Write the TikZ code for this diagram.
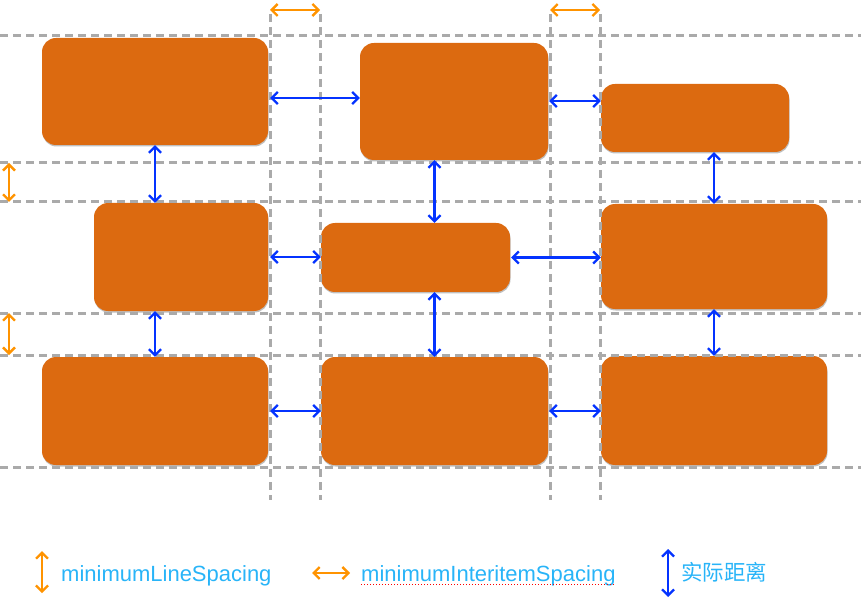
\documentclass[tikz,border=0pt]{standalone}
\usepackage{fontspec}
\setmainfont{Liberation Sans}
\newfontfamily\cjk{Noto Sans CJK SC}
\usetikzlibrary{arrows.meta,shadows,positioning}
\definecolor{boxorange}{RGB}{220,106,16}
\definecolor{gapblue}{RGB}{4,51,255}
\definecolor{lineorange}{RGB}{255,147,0}
\definecolor{gridgrey}{RGB}{170,170,170}
\definecolor{textblue}{RGB}{40,180,248}

\begin{document}
\begin{tikzpicture}[x=1pt,y=-1pt,
    item/.style={rectangle,rounded corners=14pt,fill=boxorange,inner sep=0pt,
      drop shadow={shadow xshift=0.5pt,shadow yshift=-1.5pt,opacity=0.25,fill=black}},
    gap/.style={gapblue,line width=2.3pt,
      {Straight Barb[length=6pt,width=12pt]}-{Straight Barb[length=6pt,width=12pt]}},
    spacing/.style={lineorange,line width=2.3pt,
      {Straight Barb[length=6pt,width=12pt]}-{Straight Barb[length=6pt,width=12pt]}},
    guide/.style={gridgrey,line width=3pt,dash pattern=on 8pt off 5pt},
    legend/.style={textblue,font=\fontsize{22}{26}\selectfont,anchor=base west,inner sep=0pt}]
  \useasboundingbox (0,0) rectangle (861,601);

  % items
  \node[item,minimum width=226pt,minimum height=107pt] (A) at (155,91.5) {};
  \node[item,minimum width=188pt,minimum height=117pt] (B) at (454,101.5) {};
  \node[item,minimum width=188pt,minimum height=68pt]  (C) at (695,118) {};
  \node[item,minimum width=174pt,minimum height=108pt] (D) at (181,257) {};
  \node[item,minimum width=189pt,minimum height=69pt]  (E) at (415.5,257.5) {};
  \node[item,minimum width=226pt,minimum height=105pt] (F) at (714,256.5) {};
  \node[item,minimum width=226pt,minimum height=108pt] (G) at (155,411) {};
  \node[item,minimum width=227pt,minimum height=108pt] (H) at (434.5,411) {};
  \node[item,minimum width=226pt,minimum height=109pt] (I) at (714,410.5) {};

  % guides
  \foreach \y in {36,163,202,313,355,467}
    \draw[guide] (0,\y) -- (861,\y);
  \foreach \x/\n in {270/v1,320/v2,550/v3,600/v4} {
    \coordinate (\n) at (\x,10);
    \draw[guide] (\x,14) -- (\x,500);
  }
  \foreach \y/\n in {163/h1,202/h2,313/h3,355/h4}
    \coordinate (\n) at (9,\y);

  % minimum spacings
  \draw[spacing] (v1) -- (v2);
  \draw[spacing] (v3) -- (v4);
  \draw[spacing] (h1) -- (h2);
  \draw[spacing] (h3) -- (h4);

  % real gaps
  \draw[gap,shorten <=2pt] (A.east |- 0,98) -- (B.west |- 0,98);
  \draw[gap,shorten <=1pt] (B.east |- 0,101) -- (C.west |- 0,101);
  \draw[gap,shorten <=2pt] (D.east) -- (D.east -| E.west);
  \draw[gap,shorten <=1pt] (E.east) -- (E.east -| F.west);
  \draw[gap,shorten <=2pt] (G.east) -- (H.west);
  \draw[gap,shorten <=1pt] (H.east) -- (H.east -| I.west);
  \draw[gap] (A.south) -- (A.south |- D.north);
  \draw[gap] (G.north |- D.south) -- (G.north);
  \draw[gap] (B.south -| H.north) -- (E.north -| H.north);
  \draw[gap] (E.south -| H.north) -- (H.north);
  \draw[gap] (F.north |- C.south) -- (F.north);
  \draw[gap] (F.south) -- (I.north);

  % legend
  \coordinate (k1a) at (42,551);
  \coordinate (k1b) at (42,593);
  \coordinate (k2a) at (312,573);
  \coordinate (k2b) at (350,573);
  \coordinate (k3a) at (668,549);
  \coordinate (k3b) at (668,597);
  \draw[spacing] (k1a) -- (k1b);
  \draw[spacing] (k2a) -- (k2b);
  \draw[gap] (k3a) -- (k3b);
  \node[legend] (t1) at (61,581) {minimumLineSpacing};
  \node[legend] (t2) at (361,581) {minimumInteritemSpacing};
  \node[legend,font=\cjk\fontsize{21.5}{26}\selectfont] (t3) at (681,580) {实际距离};
  \draw[red,line width=1pt,dotted] ([yshift=-3pt]t2.base west) -- ([yshift=-3pt]t2.base east);
\end{tikzpicture}
\end{document}
